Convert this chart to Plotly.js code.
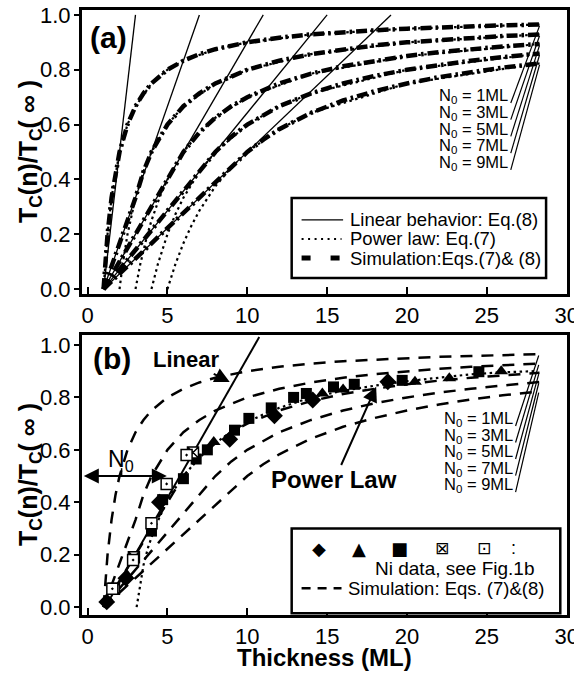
<!DOCTYPE html>
<html><head><meta charset="utf-8">
<script src="https://cdn.plot.ly/plotly-3.0.1.min.js"></script>
<style>html,body{margin:0;padding:0;background:#fff}#chart{width:574px;height:677px}</style>
</head><body><div id="chart"></div>
<script>
// ---------- data ----------
const N0_LABELS = ["N<sub>0</sub> = 1ML","N<sub>0</sub> = 3ML","N<sub>0</sub> = 5ML","N<sub>0</sub> = 7ML","N<sub>0</sub> = 9ML"];

// linear behaviour, Eq.(8) (panel a)
const linX = [[1,3],[1,7],[1,11],[1,15],[1,19]];
const linY = [0,1];

// power law, Eq.(7) (panel a)
const powX1 = [1,1.25,1.5,2,2.5,3,4,5,6,8,10,14,20,28.3];
const powY1 = [0,0.2,0.333,0.5,0.6,0.667,0.75,0.8,0.833,0.875,0.9,0.929,0.95,0.965];
const powX3 = [2,2.2,2.5,3,3.5,4,5,6,8,10,14,20,28.3];
const powY3 = [0,0.091,0.2,0.333,0.429,0.5,0.6,0.667,0.75,0.8,0.857,0.9,0.929];
const powX5 = [3,3.3,3.7,4,4.5,5,6,7,8,10,14,20,28.3];
const powY5 = [0,0.091,0.189,0.25,0.333,0.4,0.5,0.571,0.625,0.7,0.786,0.85,0.894];
const powX7 = [4,4.4,5,5.5,6,7,8,10,12,14,20,28.3];
const powY7 = [0,0.091,0.2,0.273,0.333,0.429,0.5,0.6,0.667,0.714,0.8,0.859];
const powX9 = [5,5.5,6,6.5,7,8,9,10,12,14,20,28.3];
const powY9 = [0,0.091,0.167,0.231,0.286,0.375,0.444,0.5,0.583,0.643,0.75,0.823];

// simulation, Eqs.(7)&(8) (both panels)
const simX1 = [1,1.25,1.5,1.75,2,2.5,3,3.5,4,5,6,7,8,10,12,14,16,18,20,22,24,26,28.3];
const simY1 = [0,0.2,0.333,0.429,0.5,0.6,0.667,0.714,0.75,0.8,0.833,0.857,0.875,0.9,0.917,0.929,0.938,0.944,0.95,0.955,0.958,0.962,0.965];
const simX3 = [1,2,3,3.5,4,5,6,7,8,10,12,14,16,18,20,22,24,26,28.3];
const simY3 = [0,0.167,0.333,0.429,0.5,0.6,0.667,0.714,0.75,0.8,0.833,0.857,0.875,0.889,0.9,0.909,0.917,0.923,0.929];
const simX5 = [1,3,5,6,7,8,9,10,12,14,16,18,20,22,24,26,28.3];
const simY5 = [0,0.2,0.4,0.5,0.571,0.625,0.667,0.7,0.75,0.786,0.813,0.833,0.85,0.864,0.875,0.885,0.894];
const simX7 = [1,4,7,8,9,10,12,14,16,18,20,22,24,26,28.3];
const simY7 = [0,0.214,0.429,0.5,0.556,0.6,0.667,0.714,0.75,0.778,0.8,0.818,0.833,0.846,0.859];
const simX9 = [1,5,9,10,11,12,14,16,18,20,22,24,26,28.3];
const simY9 = [0,0.222,0.444,0.5,0.545,0.583,0.643,0.688,0.722,0.75,0.773,0.792,0.808,0.823];

// panel b: Ni linear fit and power-law fit
const niLinX = [1.1,10.75];
const niLinY = [0,1.03];
const niPowX = [3.07,3.3,3.5,3.8,4.2,5,6,7,8,9,10,11,12,14,16,18,20,22,24,26,28];
const niPowY = [0,0.09,0.16,0.23,0.3,0.41,0.5,0.57,0.625,0.67,0.705,0.735,0.76,0.8,0.825,0.845,0.862,0.875,0.888,0.896,0.9];

// panel b: Ni data (five sets)
const diaX = [1.2,2.4,4.5,8.9,11.7,14.1,18.8];
const diaY = [0.02,0.11,0.4,0.64,0.73,0.79,0.86];
const triX = [2.5,7.9,14.7,16.0,20.5,22.65,25.9];
const triY = [0.12,0.63,0.815,0.83,0.86,0.873,0.9];
const sqX  = [4.0,4.7,6.0,6.8,7.5,9.2,10.1,11.5,12.9,13.7,15.4,16.7,19.7,24.5];
const sqY  = [0.29,0.41,0.49,0.565,0.6,0.675,0.72,0.76,0.8,0.815,0.84,0.85,0.865,0.898];
const sxX  = [1.65,2.9,6.6];
const sxY  = [0.07,0.19,0.59];
const soX  = [1.55,2.85,4.0,4.95,6.2];
const soY  = [0.07,0.18,0.32,0.47,0.58];

// ---------- build ----------
const FONT = "Liberation Sans, Arial, Helvetica, sans-serif";
const SYMF = "DejaVu Sans, sans-serif";
const powXs = [powX1,powX3,powX5,powX7,powX9], powYs = [powY1,powY3,powY5,powY7,powY9];
const simXs = [simX1,simX3,simX5,simX7,simX9], simYs = [simY1,simY3,simY5,simY7,simY9];

const traces = [];
linX.forEach(x => traces.push({x:x, y:linY, xaxis:'x', yaxis:'y', mode:'lines',
  line:{color:'black', width:1.3}, showlegend:false, hoverinfo:'skip'}));
powXs.forEach((x,i) => traces.push({x:x, y:powYs[i], xaxis:'x', yaxis:'y', mode:'lines',
  line:{color:'black', width:2.2, dash:'2.5px,3.5px'}, showlegend:false, hoverinfo:'skip'}));
simXs.forEach((x,i) => traces.push({x:x, y:simYs[i], xaxis:'x', yaxis:'y', mode:'lines',
  line:{color:'black', width:4.5, dash:'11px,4px,2.5px,4px'}, showlegend:false, hoverinfo:'skip'}));

simXs.forEach((x,i) => traces.push({x:x, y:simYs[i], xaxis:'x2', yaxis:'y2', mode:'lines',
  line:{color:'black', width:2.5, dash:'12px,9px'}, showlegend:false, hoverinfo:'skip'}));
traces.push({x:niLinX, y:niLinY, xaxis:'x2', yaxis:'y2', mode:'lines',
  line:{color:'black', width:2}, showlegend:false, hoverinfo:'skip'});
traces.push({x:niPowX, y:niPowY, xaxis:'x2', yaxis:'y2', mode:'lines',
  line:{color:'black', width:2.2, dash:'2.5px,3.5px'}, showlegend:false, hoverinfo:'skip'});
function mk(x,y,sym,size,color,lw){
  traces.push({x:x, y:y, xaxis:'x2', yaxis:'y2', mode:'markers', showlegend:false, hoverinfo:'skip',
    marker:{symbol:sym, size:size, color:color, line:{color:'black', width:lw}}});
}
mk(sqX, sqY, 'square', 11, 'black', 0);
mk(diaX, diaY, 'diamond', 13, 'black', 0);
mk(triX, triY, 'triangle-up', 12, 'black', 0);
mk(sxX, sxY, 'square-x', 11, 'white', 1.5);
mk(soX, soY, 'square-dot', 11, 'white', 1.5);

// ---------- layout helpers ----------
const ann = [], shp = [];
const aLabelY = [0.704,0.643,0.582,0.521,0.46];
const bLabelY = [0.716,0.653,0.59,0.527,0.464];
function endY(i){ return simYs[i][simYs[i].length-1]; }
for(let i=0;i<5;i++){
  ann.push({xref:'x', yref:'y', x:26.45, y:aLabelY[i], text:N0_LABELS[i], showarrow:false,
    xanchor:'right', yanchor:'middle', font:{family:FONT, size:16.5, color:'black'}});
  shp.push({type:'line', xref:'x', yref:'y', x0:26.5, y0:aLabelY[i]-0.025, x1:28.3, y1:endY(i)-0.005,
    line:{color:'black', width:1.2}});
  ann.push({xref:'x2', yref:'y2', x:26.75, y:bLabelY[i], text:N0_LABELS[i], showarrow:false,
    xanchor:'right', yanchor:'middle', font:{family:FONT, size:16.5, color:'black'}});
  shp.push({type:'line', xref:'x2', yref:'y2', x0:26.8, y0:bLabelY[i]-0.025, x1:28.25, y1:endY(i)-0.005,
    line:{color:'black', width:1.2}});
}
// panel labels
ann.push({xref:'x', yref:'y', x:1.28, y:0.916, text:'<b>(a)</b>', showarrow:false, font:{family:FONT, size:30, color:'black'}});
ann.push({xref:'x2', yref:'y2', x:1.5, y:0.947, text:'<b>(b)</b>', showarrow:false, font:{family:FONT, size:30, color:'black'}});

// axis titles
const yTitle = '<b>T<sub>C</sub>(n)/T<sub>C</sub>( ∞ )</b>';
ann.push({xref:'paper', yref:'y domain', x:-0.107, y:0.5, text:yTitle, textangle:-90, showarrow:false,
  xanchor:'center', yanchor:'middle', font:{family:FONT, size:25, color:'black'}});
ann.push({xref:'paper', yref:'y2 domain', x:-0.107, y:0.5, text:yTitle, textangle:-90, showarrow:false,
  xanchor:'center', yanchor:'middle', font:{family:FONT, size:25, color:'black'}});
ann.push({xref:'paper', yref:'paper', x:0.5, y:-0.071, text:'<b>Thickness (ML)</b>', showarrow:false,
  xanchor:'center', yanchor:'middle', font:{family:FONT, size:24, color:'black'}});

// legend (a)
shp.push({type:'rect', xref:'x', yref:'y', x0:12.78, x1:28.71, y0:0.04, y1:0.332, line:{color:'black', width:2.5}, fillcolor:'white', layer:'above'});
const legAY = [0.252,0.183,0.113];
const legAText = ['Linear behavior: Eq.(8)','Power law: Eq.(7)','Simulation:Eqs.(7)& (8)'];
shp.push({type:'line', xref:'x', yref:'y', x0:13.4, x1:16.0, y0:legAY[0], y1:legAY[0], line:{color:'black', width:1.3}, layer:'above'});
shp.push({type:'line', xref:'x', yref:'y', x0:13.4, x1:15.9, y0:legAY[1], y1:legAY[1], line:{color:'black', width:2, dash:'2px,4.5px'}, layer:'above'});
shp.push({type:'line', xref:'x', yref:'y', x0:13.4, x1:16.0, y0:legAY[2], y1:legAY[2], line:{color:'black', width:5, dash:'9px,20px'}, layer:'above'});
legAText.forEach((t,i)=>ann.push({xref:'x', yref:'y', x:16.3, y:legAY[i], text:t, showarrow:false,
  xanchor:'left', yanchor:'middle', font:{family:FONT, size:18.5, color:'black'}}));

// legend (b)
shp.push({type:'rect', xref:'x2', yref:'y2', x0:12.78, x1:29.6, y0:-0.023, y1:0.30, line:{color:'black', width:2.5}, fillcolor:'white', layer:'above'});
const legBSym = ['◆','▲','■','⊠','⊡',':'];
const legBSymX = [14.5,17.0,19.5,22.2,24.85,26.7];
legBSym.forEach((s,i)=>ann.push({xref:'x2', yref:'y2', x:legBSymX[i], y:0.225, text:s, showarrow:false,
  xanchor:'center', yanchor:'middle', font:{family:(i<5?SYMF:FONT), size:(i===3||i===4)?17:18, color:'black'}}));
ann.push({xref:'x2', yref:'y2', x:28.1, y:0.149, text:'Ni data, see Fig.1b', showarrow:false,
  xanchor:'right', yanchor:'middle', font:{family:FONT, size:19, color:'black'}});
shp.push({type:'line', xref:'x2', yref:'y2', x0:13.4, x1:15.9, y0:0.0725, y1:0.0725, line:{color:'black', width:2.5, dash:'9px,7px'}, layer:'above'});
ann.push({xref:'x2', yref:'y2', x:16.2, y:0.0725, text:'Simulation: Eqs. (7)&(8)', showarrow:false,
  xanchor:'left', yanchor:'middle', font:{family:FONT, size:18.5, color:'black'}});

// panel b arrows and labels
ann.push({xref:'x2', yref:'y2', axref:'x2', ayref:'y2', x:8.9, y:0.859, ax:6.15, ay:0.943,
  text:'<b>Linear</b>', showarrow:true, arrowhead:2, arrowsize:1.5, arrowwidth:2, arrowcolor:'black',
  font:{family:FONT, size:22, color:'black'}});
ann.push({xref:'x2', yref:'y2', axref:'x2', ayref:'y2', x:18.07, y:0.841, ax:15.46, ay:0.485,
  text:'<b>Power Law</b>', showarrow:true, arrowhead:2, arrowsize:1.5, arrowwidth:2, arrowcolor:'black',
  font:{family:FONT, size:24, color:'black'}});
ann.push({xref:'x2', yref:'y2', x:2.09, y:0.56, text:'N<sub>0</sub>', showarrow:false,
  font:{family:FONT, size:23, color:'black'}});
ann.push({xref:'x2', yref:'y2', axref:'x2', ayref:'y2', x:4.96, y:0.5, ax:-0.33, ay:0.5,
  text:'', showarrow:true, arrowside:'end+start', arrowhead:2, arrowsize:1.5, arrowwidth:2, arrowcolor:'black'});
shp.push({type:'line', xref:'x2', yref:'y2', x0:2.13, x1:2.13, y0:0.5, y1:0.53, line:{color:'black', width:1.5}});

function xax(anchor){
  return {anchor:anchor, domain:[0,1], range:[-0.35,30.02], tick0:0, dtick:5, ticks:'inside', ticklen:7, tickwidth:2,
    tickcolor:'black', showline:true, mirror:true, linewidth:3, linecolor:'black', showgrid:false, zeroline:false,
    ticklabeloverflow:'allow', tickfont:{family:FONT, size:22, color:'black'}};
}
function yax(anchor, dom, rng){
  return {anchor:anchor, domain:dom, range:rng, tick0:0, dtick:0.2, tickformat:'.1f', ticks:'outside', ticklen:5, tickwidth:2,
    tickcolor:'black', showline:true, mirror:true, linewidth:3, linecolor:'black', showgrid:false, zeroline:false,
    ticklabelstandoff:-1, tickfont:{family:FONT, size:22, color:'black'}};
}
const layout = {
  width:574, height:677, margin:{l:82, r:7, t:10, b:62},
  paper_bgcolor:'white', plot_bgcolor:'white', showlegend:false,
  xaxis: xax('y'),
  yaxis: yax('x', [0.5306,1], [-0.018,1.018]),
  xaxis2: xax('y2'),
  yaxis2: yax('x2', [0,0.4628], [-0.03,1.038]),
  annotations: ann, shapes: shp, font:{family:FONT, color:'black'}
};
Plotly.newPlot('chart', traces, layout, {staticPlot:true, displayModeBar:false});
</script></body></html>
